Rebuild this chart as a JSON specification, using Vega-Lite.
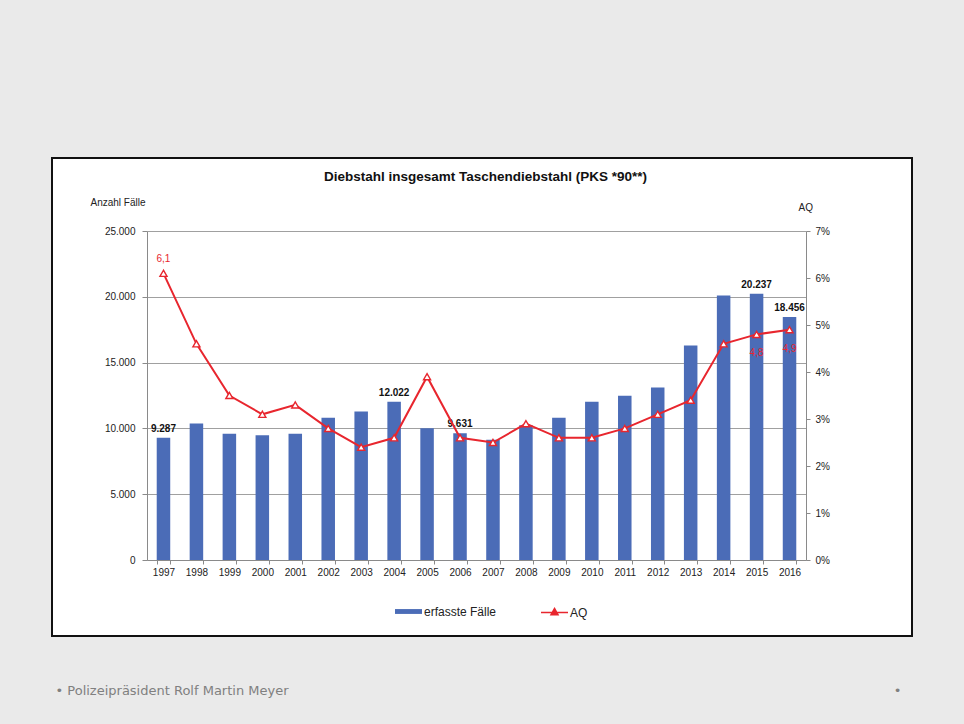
{
  "$schema": "https://vega.github.io/schema/vega-lite/v6.json",
  "width": 860,
  "height": 478,
  "autosize": {"type": "none"},
  "padding": {"left": 52, "top": 158, "right": 52, "bottom": 88},
  "background": "#eaeaea",
  "data": {
    "values": [
      {"Jahr": "1997", "faelle": 9287, "aq": 6.1},
      {"Jahr": "1998", "faelle": 10380, "aq": 4.6},
      {"Jahr": "1999", "faelle": 9600, "aq": 3.5},
      {"Jahr": "2000", "faelle": 9470, "aq": 3.1},
      {"Jahr": "2001", "faelle": 9600, "aq": 3.3},
      {"Jahr": "2002", "faelle": 10810, "aq": 2.8},
      {"Jahr": "2003", "faelle": 11290, "aq": 2.4},
      {"Jahr": "2004", "faelle": 12022, "aq": 2.6},
      {"Jahr": "2005", "faelle": 10020, "aq": 3.9},
      {"Jahr": "2006", "faelle": 9631, "aq": 2.6},
      {"Jahr": "2007", "faelle": 9140, "aq": 2.5},
      {"Jahr": "2008", "faelle": 10230, "aq": 2.9},
      {"Jahr": "2009", "faelle": 10810, "aq": 2.6},
      {"Jahr": "2010", "faelle": 12020, "aq": 2.6},
      {"Jahr": "2011", "faelle": 12480, "aq": 2.8},
      {"Jahr": "2012", "faelle": 13100, "aq": 3.1},
      {"Jahr": "2013", "faelle": 16290, "aq": 3.4},
      {"Jahr": "2014", "faelle": 20100, "aq": 4.6},
      {"Jahr": "2015", "faelle": 20237, "aq": 4.8},
      {"Jahr": "2016", "faelle": 18456, "aq": 4.9}
    ]
  },
  "layer": [
    {
      "encoding": {
        "x": {
          "field": "Jahr",
          "type": "ordinal",
          "scale": {"range": [95, 754], "paddingInner": 0.59, "paddingOuter": 0.295},
          "axis": {
            "orient": "bottom",
            "offset": -76,
            "labelAngle": 0,
            "tickBand": "extent",
            "tickSize": 4,
            "labelPadding": 3,
            "title": "• Polizeipräsident Rolf Martin Meyer",
            "titleFont": "DejaVu Sans",
            "titleFontSize": 13,
            "titleFontWeight": "normal",
            "titleColor": "#808080",
            "titleAnchor": null,
            "titleAlign": "left",
            "titleBaseline": "middle",
            "titleX": 3,
            "titleY": 130
          }
        },
        "y": {
          "field": "faelle",
          "type": "quantitative",
          "scale": {"domain": [0, 25000], "range": [402, 73], "nice": false},
          "axis": {
            "orient": "left",
            "offset": -95,
            "values": [0, 5000, 10000, 15000, 20000, 25000],
            "format": ",d",
            "grid": true,
            "tickSize": 5,
            "labelPadding": 7,
            "title": "Anzahl Fälle",
            "titleAngle": 0,
            "titleAnchor": null,
            "titleAlign": "left",
            "titleBaseline": "middle",
            "titleX": -57,
            "titleY": 44
          }
        }
      },
      "layer": [
        {
          "mark": {"type": "bar"},
          "encoding": {
            "fill": {
              "datum": "erfasste Fälle",
              "scale": {"range": ["#4b6cb7"]},
              "legend": {
                "orient": "none",
                "legendX": 343,
                "legendY": 440,
                "title": null,
                "padding": 0,
                "symbolType": "M-1,-0.18H1V0.18H-1Z",
                "symbolSize": 729,
                "symbolStrokeWidth": 0,
                "labelOffset": 2,
                "labelFontSize": 12
              }
            }
          }
        },
        {
          "transform": [{"filter": {"field": "Jahr", "oneOf": ["1997", "2004", "2006", "2015", "2016"]}}],
          "mark": {"type": "text", "baseline": "bottom", "dy": -4, "font": "Liberation Sans", "fontSize": 10, "fontWeight": "bold", "color": "#111111"},
          "encoding": {
            "y": {
              "field": "faelle",
              "type": "quantitative",
              "scale": {"domain": [0, 25000], "range": [402, 73], "nice": false},
              "axis": {
                "orient": "right",
                "offset": 0,
                "labels": false,
                "ticks": false,
                "domain": false,
                "grid": false,
                "title": "•",
                "titleFont": "DejaVu Sans",
                "titleFontSize": 13,
                "titleFontWeight": "normal",
                "titleColor": "#808080",
                "titleAngle": 0,
                "titleAnchor": null,
                "titleAlign": "center",
                "titleBaseline": "middle",
                "titleX": -15,
                "titleY": 532
              }
            },
            "text": {"field": "faelle", "type": "quantitative", "format": ",d"}
          }
        }
      ],
      "resolve": {"axis": {"y": "independent"}}
    },
    {
      "encoding": {
        "x": {
          "field": "Jahr",
          "type": "ordinal",
          "scale": {"range": [95, 754], "paddingInner": 0.59, "paddingOuter": 0.295},
          "axis": {
            "orient": "top",
            "labels": false,
            "ticks": false,
            "domain": false,
            "grid": false,
            "title": "Diebstahl insgesamt Taschendiebstahl (PKS *90**)",
            "titleFont": "Liberation Sans",
            "titleFontSize": 13.5,
            "titleFontWeight": "bold",
            "titleColor": "#111111",
            "titleAnchor": null,
            "titleAlign": "center",
            "titleBaseline": "middle",
            "titleX": 433,
            "titleY": 18
          }
        },
        "y": {
          "field": "aq",
          "type": "quantitative",
          "scale": {"domain": [0, 7], "range": [402, 73], "nice": false},
          "axis": {
            "orient": "right",
            "offset": -106,
            "values": [0, 1, 2, 3, 4, 5, 6, 7],
            "labelExpr": "datum.value + '%'",
            "grid": false,
            "tickSize": 4,
            "labelPadding": 5,
            "title": "AQ",
            "titleAngle": 0,
            "titleAnchor": null,
            "titleAlign": "left",
            "titleBaseline": "middle",
            "titleX": -8,
            "titleY": 49
          }
        }
      },
      "layer": [
        {
          "mark": {"type": "line", "strokeWidth": 2},
          "encoding": {
            "stroke": {
              "datum": "AQ",
              "scale": {"range": ["#e8262e"]},
              "legend": {
                "orient": "none",
                "legendX": 488,
                "legendY": 440,
                "title": null,
                "padding": 0,
                "symbolType": "M-1,0H1M0,-0.3L0.26,0.17L-0.26,0.17Z",
                "symbolSize": 729,
                "symbolStrokeWidth": 1.5,
                "symbolFillColor": "#e8262e",
                "labelOffset": 1,
                "labelFontSize": 12
              }
            }
          }
        },
        {
          "mark": {"type": "point", "shape": "triangle-up", "size": 50, "filled": true, "fill": "#ffffff", "stroke": "#e8262e", "strokeWidth": 1.4, "opacity": 1}
        },
        {
          "transform": [{"filter": {"field": "Jahr", "equal": "1997"}}],
          "mark": {"type": "text", "baseline": "bottom", "dy": -9, "font": "Liberation Sans", "fontSize": 10, "color": "#e8262e"},
          "encoding": {
            "text": {"field": "aq", "type": "quantitative", "format": ".1f"}
          }
        },
        {
          "transform": [{"filter": {"field": "Jahr", "oneOf": ["2015", "2016"]}}],
          "mark": {"type": "text", "baseline": "top", "dy": 14, "font": "Liberation Sans", "fontSize": 10, "color": "#e8262e"},
          "encoding": {
            "text": {"field": "aq", "type": "quantitative", "format": ".1f"}
          }
        }
      ]
    }
  ],
  "resolve": {
    "scale": {"y": "independent"},
    "axis": {"x": "independent", "y": "independent"}
  },
  "config": {
    "locale": {
      "number": {"decimal": ",", "thousands": ".", "grouping": [3], "currency": ["", " €"]}
    },
    "font": "Liberation Sans",
    "view": {"fill": "#ffffff", "stroke": "#111111", "strokeWidth": 2},
    "axis": {
      "labelFont": "Liberation Sans",
      "labelFontSize": 10,
      "labelColor": "#222222",
      "titleFont": "Liberation Sans",
      "titleFontSize": 10,
      "titleFontWeight": "normal",
      "titleColor": "#222222",
      "domainColor": "#8a8a8a",
      "tickColor": "#8a8a8a",
      "gridColor": "#a0a0a0",
      "gridWidth": 1
    },
    "legend": {
      "labelFont": "Liberation Sans",
      "labelColor": "#222222"
    }
  }
}
